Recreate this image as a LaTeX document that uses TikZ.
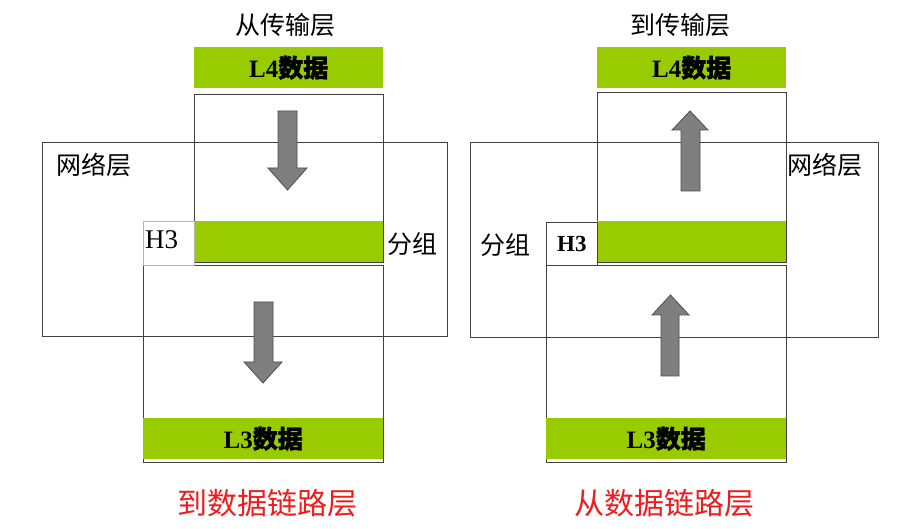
\documentclass[tikz,border=0pt]{standalone}
\usepackage{fontspec}
\setmainfont{Liberation Serif}
\newfontfamily\cjk{Noto Sans CJK SC}
\newfontfamily\cjkb[FakeBold=1.5]{Noto Sans CJK SC}
\definecolor{bargreen}{HTML}{99CC00}
\definecolor{linegray}{HTML}{404040}
\definecolor{arrowgray}{HTML}{7F7F7F}
\definecolor{redtext}{HTML}{EE1C1C}
\tikzset{
  box/.style={draw=linegray, line width=1pt},
  greenbar/.style={fill=bargreen, draw=none},
  hbox/.style={fill=white, draw=linegray!40, line width=0.8pt},
  blockarrow/.style={fill=arrowgray, draw=black!70, line width=0.8pt},
  lbl/.style={font=\cjk\fontsize{25}{28}\selectfont, inner sep=0pt},
  barlbl/.style={font=\bfseries\fontsize{25}{28}\selectfont, inner sep=0pt},
  redlbl/.style={font=\cjk\fontsize{30}{34}\selectfont, text=redtext, inner sep=0pt}
}
\begin{document}
\begin{tikzpicture}[x=1pt,y=-1pt]
\useasboundingbox (0,0) rectangle (900,529);
\fill[white] (0,0) rectangle (900,529);

% ---------------- left diagram ----------------
\draw[box] (42,143) rectangle (447,337);
\node[box, anchor=north west, minimum width=189pt, minimum height=168pt, inner sep=0pt] (lupper) at (194,94) {};
\node[box, anchor=north west, minimum width=240pt, minimum height=197pt, inner sep=0pt] (llower) at (143,265) {};
\node[greenbar, anchor=north west, minimum width=189pt, minimum height=41pt, inner sep=0pt] (ll4) at (194,47) {};
\node[barlbl] at (ll4.center) {L4{\cjkb 数据}};
\node[greenbar, anchor=north west, minimum width=189pt, minimum height=41pt, inner sep=0pt] (lpkt) at (194,221) {};
\node[hbox, anchor=north west, minimum width=51pt, minimum height=44pt, inner sep=0pt] (lh3) at (143,221) {};
\node[font=\fontsize{27}{30}\selectfont, anchor=west, inner sep=0pt] at (145,240) {H3};
\node[greenbar, anchor=north west, minimum width=240pt, minimum height=41pt, inner sep=0pt] (ll3) at (143,418) {};
\node[barlbl] at (ll3.center) {L3{\cjkb 数据}};

\draw[blockarrow] (278,111) -- (297,111) -- (297,168) -- (307,168) -- (287.5,190) -- (268,168) -- (278,168) -- cycle;
\draw[blockarrow] (254,302) -- (273,302) -- (273,362) -- (282,362) -- (263,383) -- (244,362) -- (254,362) -- cycle;

\node[lbl] (ltitle) at (285,25) {从传输层};
\node[lbl] (lnet) at (94,165) {网络层};
\node[lbl] (lgroup) at (412,244) {分组};
\node[redlbl] (lbottom) at (267,503) {到数据链路层};

% ---------------- right diagram ----------------
\draw[box] (470,143) rectangle (878,338);
\node[box, anchor=north west, minimum width=189pt, minimum height=170pt, inner sep=0pt] (rupper) at (597,92) {};
\node[box, anchor=north west, minimum width=240pt, minimum height=197pt, inner sep=0pt] (rlower) at (546,265) {};
\node[greenbar, anchor=north west, minimum width=189pt, minimum height=41pt, inner sep=0pt] (rl4) at (597,47) {};
\node[barlbl] at (rl4.center) {L4{\cjkb 数据}};
\node[greenbar, anchor=north west, minimum width=189pt, minimum height=41pt, inner sep=0pt] (rpkt) at (597,221) {};
\node[box, fill=white, line width=0.8pt, anchor=north west, minimum width=51pt, minimum height=43pt, inner sep=0pt] (rh3) at (546,222) {};
\node[font=\bfseries\fontsize{23}{26}\selectfont, inner sep=0pt] at (rh3.center) {H3};
\node[greenbar, anchor=north west, minimum width=240pt, minimum height=41pt, inner sep=0pt] (rl3) at (546,418) {};
\node[barlbl] at (rl3.center) {L3{\cjkb 数据}};

\draw[blockarrow] (681,191) -- (700,191) -- (700,130) -- (708,130) -- (690,111) -- (672,130) -- (681,130) -- cycle;
\draw[blockarrow] (661,376) -- (679,376) -- (679,315) -- (689,315) -- (670.5,295) -- (652,315) -- (661,315) -- cycle;

\node[lbl] (rtitle) at (680,25) {到传输层};
\node[lbl] (rnet) at (825,165) {网络层};
\node[lbl] (rgroup) at (505,245) {分组};
\node[redlbl] (rbottom) at (664,503) {从数据链路层};
\end{tikzpicture}
\end{document}
